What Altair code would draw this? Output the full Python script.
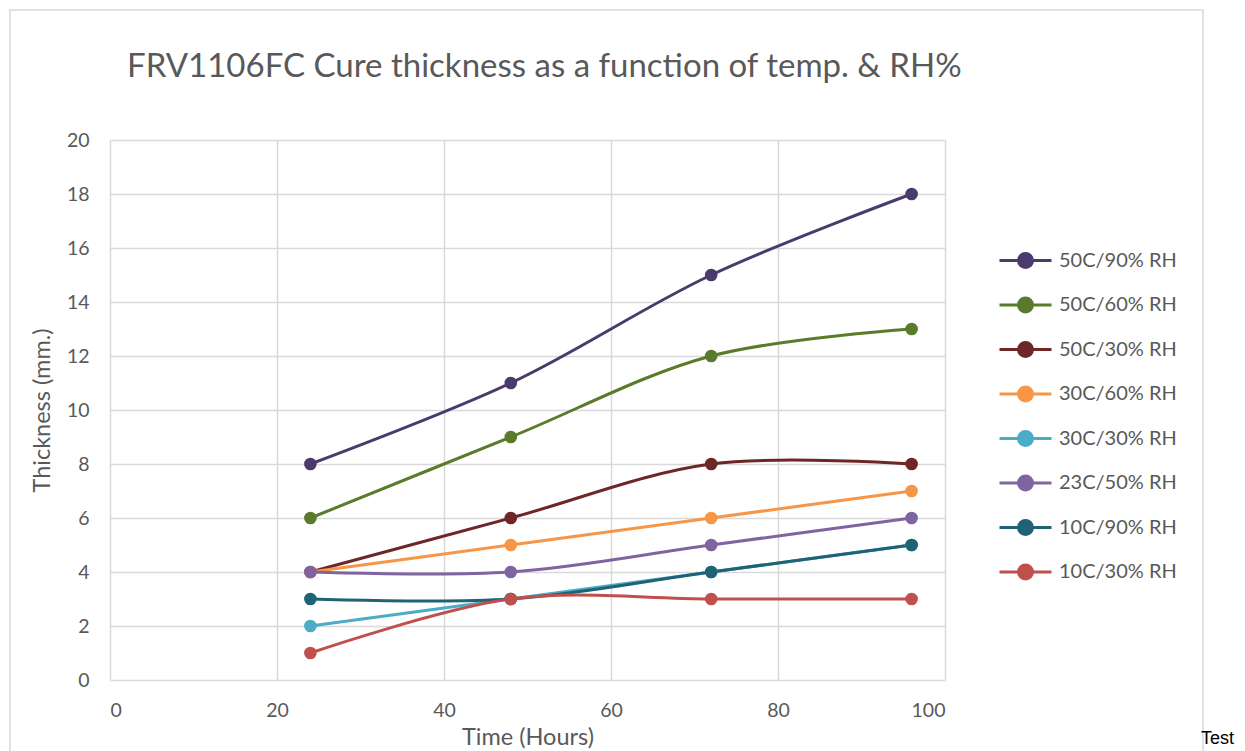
import altair as alt
import pandas as pd

# ---- data ----
hours = [24, 48, 72, 96]
series = ["50C/90% RH", "50C/60% RH", "50C/30% RH", "30C/60% RH",
          "30C/30% RH", "23C/50% RH", "10C/90% RH", "10C/30% RH"]
colors = ["#4b3b6d", "#5a7b2c", "#6e2726", "#f79646",
          "#4bacc6", "#8064a2", "#1f6374", "#c0504d"]
t_50_90 = [8, 11, 15, 18]
t_50_60 = [6, 9, 12, 13]
t_50_30 = [4, 6, 8, 8]
t_30_60 = [4, 5, 6, 7]
t_30_30 = [2, 3, 4, 5]
t_23_50 = [4, 4, 5, 6]
t_10_90 = [3, 3, 4, 5]
t_10_30 = [1, 3, 3, 3]
all_vals = [t_50_90, t_50_60, t_50_30, t_30_60, t_30_30, t_23_50, t_10_90, t_10_30]
x_ticks = [0, 20, 40, 60, 80, 100]
y_ticks = [0, 2, 4, 6, 8, 10, 12, 14, 16, 18, 20]
title_text = "FRV1106FC Cure thickness as a function of temp. & RH%"

rows = []
for i, (s, vals) in enumerate(zip(series, all_vals)):
    for h, v in zip(hours, vals):
        rows.append({"series": s, "order": i, "hours": h, "thickness": v})
df = pd.DataFrame(rows)

W, H = 835, 540
GRAY = "#595959"
FONT = "Lato"

x_enc = alt.X("hours:Q",
              scale=alt.Scale(domain=[0, 100], nice=False, zero=True),
              axis=alt.Axis(values=x_ticks, title="Time (Hours)", domain=False, ticks=False,
                            grid=True, labelPadding=21, labelFontSize=19.5,
                            labelFont=FONT, titleFont=FONT, labelColor=GRAY, titleColor=GRAY,
                            titleFontSize=23.5, titleFontWeight="normal",
                            titleY=57, titleBaseline="middle"))
y_enc = alt.Y("thickness:Q",
              scale=alt.Scale(domain=[0, 20], nice=False),
              axis=alt.Axis(values=y_ticks, title="Thickness (mm.)", domain=False, ticks=False,
                            grid=True, labelPadding=21, labelFontSize=19.5,
                            labelFont=FONT, titleFont=FONT, labelColor=GRAY, titleColor=GRAY,
                            titleFontSize=23.5, titleFontWeight="normal",
                            titleX=-56, titleY=H / 2, titleAngle=-90,
                            titleAlign="center", titleBaseline="bottom"))

sym = "M-1.3,0L1.3,0M0.35,0A0.35,0.35,0,1,1,-0.35,0A0.35,0.35,0,1,1,0.35,0Z"
color_enc = alt.Color("series:N",
                      scale=alt.Scale(domain=series, range=colors),
                      legend=alt.Legend(title=None, orient="none", legendX=894, legendY=99,
                                        symbolType=sym, symbolSize=1600, symbolStrokeWidth=3,
                                        labelFontSize=20, labelColor=GRAY, labelFont=FONT,
                                        labelOffset=12, rowPadding=9.5, padding=0))

lines = alt.Chart(df).mark_line(interpolate="catmull-rom", strokeWidth=3).encode(
    x=x_enc, y=y_enc, color=color_enc, detail="series:N")
points = alt.Chart(df).mark_point(filled=True, size=160, opacity=1).encode(
    x=x_enc, y=y_enc, color=color_enc)

title = alt.Chart(pd.DataFrame({"t": [title_text]})).mark_text(
    align="left", baseline="middle", font=FONT, fontSize=33, color=GRAY
).encode(x=alt.value(17), y=alt.value(-73), text="t:N")

border = alt.Chart(pd.DataFrame({"a": [0]})).mark_rect(
    fillOpacity=0, stroke="#d9d9d9", strokeWidth=1.5
).encode(x=alt.value(-100), x2=alt.value(1093), y=alt.value(-130), y2=alt.value(660))

test = alt.Chart(pd.DataFrame({"t": ["Test"]})).mark_text(
    align="left", baseline="alphabetic", font="Liberation Sans", fontSize=18, color="#000000"
).encode(x=alt.value(1091), y=alt.value(604), text="t:N")

chart = alt.layer(border, lines, points, title, test).properties(
    width=W, height=H,
    background="white",
    autosize=alt.AutoSizeParams(type="none"),
    padding={"left": 102, "top": 132, "right": 292, "bottom": 71},
).configure_view(stroke=None).configure_axis(
    gridColor="#d9d9d9", gridWidth=1.5, labelColor=GRAY, titleColor=GRAY,
    labelFont=FONT, titleFont=FONT
)

chart.save("out.html", embed_options={"renderer": "svg", "actions": False})
